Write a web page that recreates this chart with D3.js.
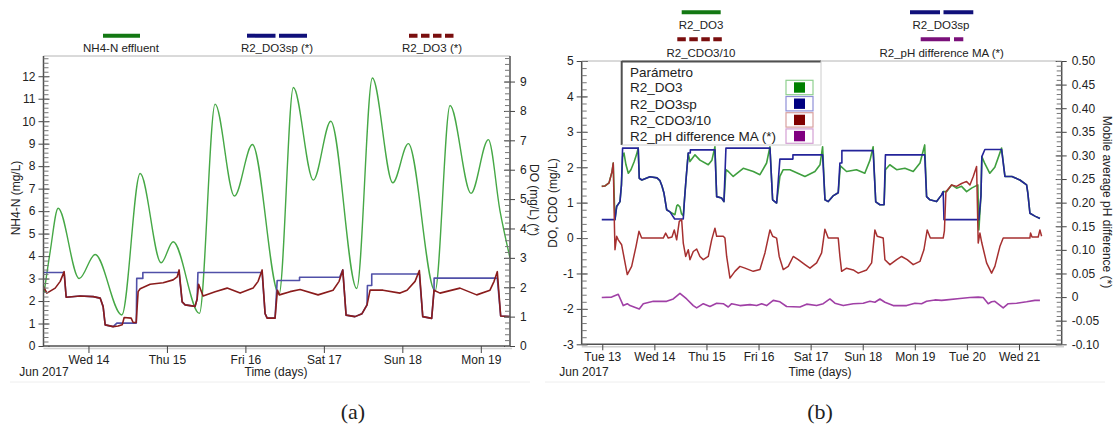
<!DOCTYPE html>
<html>
<head>
<meta charset="utf-8">
<script src="https://d3js.org/d3.v7.min.js"></script>
<style>
  body { margin: 0; background: #fff; }
  svg { display: block; font-family: "Liberation Sans", Arial, sans-serif; }
</style>
</head>
<body>
<svg width="1115" height="436"></svg>
<script>
// times are days since Jun 13 2017 00:00

// ---- panel (a) ----
var aNames = ["NH4-N effluent", "R2_DO3sp (*)", "R2_DO3 (*)"];
var aNH4 = [[0.436,2.4],[0.512,4.2],[0.614,6.13],[0.882,3.0],[1.085,4.07],[1.425,1.38],[1.659,7.67],[1.926,3.7],
  [2.079,4.64],[2.414,1.45],[2.614,10.76],[2.86,6.67],[3.089,8.96],[3.429,2.3],[3.611,11.5],[3.866,7.38],
  [4.088,10.0],[4.419,2.56],[4.618,11.92],[4.878,7.26],[5.076,9.0],[5.417,2.45],[5.608,10.7],[5.875,6.79],
  [6.096,9.18],[6.245,6.0],[6.373,3.9]];
var aDO3 = [[0.427,2.02],[0.47,1.8],[0.576,1.97],[0.64,2.2],[0.69,2.53],[0.716,1.66],[0.894,1.7],[1.06,1.68],
  [1.149,1.63],[1.187,1.34],[1.213,0.72],[1.315,0.66],[1.378,0.68],[1.43,0.72],[1.455,0.97],[1.544,0.95],
  [1.569,0.8],[1.608,0.8],[1.633,1.85],[1.659,1.95],[1.786,2.1],[1.952,2.15],[2.079,2.25],[2.13,2.35],
  [2.155,2.59],[2.194,1.5],[2.232,1.4],[2.359,1.35],[2.385,1.6],[2.404,2.1],[2.461,1.7],[2.614,1.85],
  [2.767,1.97],[2.933,1.8],[3.098,1.97],[3.162,2.2],[3.213,2.59],[3.251,1.1],[3.277,0.95],[3.378,0.95],
  [3.408,1.9],[3.433,1.74],[3.569,1.85],[3.697,1.92],[3.926,1.74],[4.117,1.9],[4.194,2.2],[4.241,2.59],
  [4.283,1.05],[4.397,1.0],[4.486,1.1],[4.55,1.4],[4.589,1.9],[4.754,1.9],[4.971,1.8],[5.06,1.9],
  [5.162,2.2],[5.217,2.57],[5.26,1.0],[5.374,0.94],[5.404,1.9],[5.48,1.8],[5.735,1.97],[5.948,1.74],
  [6.117,1.9],[6.169,2.2],[6.21,2.53],[6.253,1.02],[6.371,1.0]];
// setpoint held constant: [from, to, value]
var aSpSteps = [[0.427,0.69,2.5],[1.362,1.61,0.78],[1.615,1.693,2.3],[1.693,2.155,2.5],[2.395,3.213,2.5],
  [3.405,3.69,2.23],[3.69,4.2,2.34],[4.555,4.61,2.06],[4.61,5.217,2.45],[5.405,6.21,2.31]];

// ---- panel (b) ----
var bNames = ["R2_DO3", "R2_CDO3/10", "R2_DO3sp", "R2_pH difference MA (*)"];
var boxNames = ["R2_DO3", "R2_DO3sp", "R2_CDO3/10", "R2_pH difference MA (*)"];
var bDO3 = [[-0.01,1.46],[0.05,1.47],[0.13,1.56],[0.186,1.87],[0.21,2.12],[0.234,0.94],[0.244,0.52],[0.276,0.89],
  [0.34,1.03],[0.368,1.5],[0.39,2.3],[0.417,2.4],[0.455,2.07],[0.5,1.83],[0.55,1.93],[0.61,2.15],[0.656,2.35],
  [0.69,2.54],[0.71,1.69],[0.76,1.64],[0.915,1.73],[1.05,1.7],[1.107,1.62],[1.146,1.47],[1.184,1.27],[1.236,0.8],
  [1.3,0.74],[1.395,0.66],[1.43,0.91],[1.45,0.94],[1.49,0.88],[1.52,0.69],[1.555,0.63],[1.578,1.08],[1.607,1.64],
  [1.65,2.4],[1.683,2.16],[1.78,2.35],[1.875,2.2],[2.035,2.07],[2.105,2.2],[2.163,2.58],[2.196,1.17],[2.29,1.13],
  [2.336,1.03],[2.374,1.93],[2.42,1.88],[2.514,1.74],[2.706,1.97],[2.9,1.88],[3.027,1.79],[3.155,2.12],[3.219,2.58],
  [3.27,1.08],[3.347,0.99],[3.41,1.74],[3.474,1.93],[3.603,1.93],[3.891,1.74],[4.083,1.88],[4.18,2.07],[4.23,2.58],
  [4.275,1.08],[4.338,1.03],[4.43,1.19],[4.53,1.28],[4.57,2.04],[4.69,1.88],[4.88,1.93],[5.04,1.83],[5.14,2.2],
  [5.2,2.58],[5.25,1.02],[5.33,0.94],[5.41,0.94],[5.436,1.93],[5.52,2.07],[5.65,1.93],[5.81,1.97],[5.97,1.88],
  [6.1,2.12],[6.19,2.63],[6.226,1.17],[6.29,1.08],[6.418,1.03],[6.514,1.22],[6.545,1.31],[6.61,1.31],[6.706,1.5],
  [6.802,1.41],[6.898,1.46],[6.994,1.31],[7.09,1.41],[7.154,1.46],[7.21,1.5],[7.23,0.23],[7.27,1.2],[7.287,2.3],
  [7.345,2.1],[7.44,1.83],[7.536,2.0],[7.666,2.54],[7.73,1.74],[7.864,1.74],[8.017,1.64],[8.146,1.5],[8.17,1.27],
  [8.21,0.7],[8.306,0.62],[8.402,0.55]];
var bSpSteps = [[-0.01,0.244,0.52],[0.39,0.69,2.54],[1.39,1.555,0.54],[1.65,1.69,2.4],[1.69,2.163,2.49],
  [2.374,3.219,2.54],[3.41,3.66,2.23],[3.66,4.23,2.35],[4.562,4.6,2.12],[4.6,5.2,2.47],[5.436,6.19,2.35],
  [6.56,7.23,0.52],[7.345,7.666,2.5]];
var bCDO = [[-0.01,1.46],[0.05,1.47],[0.13,1.56],[0.186,1.87],[0.211,2.12],[0.234,0.3],[0.244,-0.33],[0.276,0.05],
  [0.307,-0.05],[0.372,-0.19],[0.48,-1.03],[0.564,-0.8],[0.647,-0.24],[0.704,0.19],[0.756,0],[1.171,0],[1.217,0.14],
  [1.267,0],[1.338,0.03],[1.382,0.23],[1.428,-0.05],[1.478,0.47],[1.524,0.52],[1.555,-0.14],[1.601,-0.52],
  [1.651,-0.33],[1.683,-0.61],[1.747,-0.38],[1.812,-0.31],[1.875,-0.52],[1.939,-0.61],[2.035,-0.52],[2.1,-0.05],
  [2.163,0.28],[2.196,0.05],[2.322,0.05],[2.355,0],[2.388,-0.52],[2.451,-1.13],[2.547,-0.94],[2.643,-0.8],
  [2.739,-0.85],[2.898,-0.94],[3.027,-0.89],[3.123,-0.42],[3.219,0.23],[3.271,0.05],[3.347,0],[3.397,-0.52],
  [3.474,-0.89],[3.57,-0.8],[3.666,-0.52],[3.762,-0.61],[3.891,-0.75],[3.987,-0.85],[4.115,-0.7],[4.211,-0.42],
  [4.274,0.25],[4.338,0],[4.53,0],[4.562,-0.52],[4.595,-0.94],[4.69,-0.85],[4.818,-0.9],[4.914,-0.99],[5.075,-0.9],
  [5.171,-0.7],[5.234,0.23],[5.278,0.05],[5.393,0],[5.426,-0.61],[5.522,-0.75],[5.651,-0.61],[5.747,-0.52],
  [5.854,-0.61],[5.969,-0.75],[6.098,-0.66],[6.175,-0.33],[6.238,0.23],[6.298,0],[6.545,0],[6.568,0.2],[6.597,1.31],
  [6.706,1.5],[6.802,1.46],[6.898,1.54],[6.994,1.6],[7.058,1.5],[7.122,1.74],[7.186,2.02],[7.217,-0.14],[7.25,0.14],
  [7.287,-0.14],[7.378,-0.7],[7.474,-0.99],[7.537,-0.8],[7.633,-0.24],[7.697,0],[8.209,0],[8.222,0.14],[8.25,0.03],
  [8.369,0.03],[8.402,0.23],[8.434,0.05]];
var bPH = [[-0.01,-0.001],[0.18,0.0],[0.307,0.006],[0.403,-0.018],[0.48,-0.014],[0.532,-0.018],[0.71,-0.025],
  [0.787,-0.014],[0.979,-0.009],[1.236,-0.009],[1.363,-0.004],[1.491,0.008],[1.62,-0.004],[1.747,-0.018],
  [1.812,-0.023],[1.939,-0.014],[2.067,-0.02],[2.196,-0.013],[2.322,-0.014],[2.418,-0.021],[2.484,-0.014],
  [2.643,-0.018],[2.835,-0.016],[2.964,-0.018],[3.06,-0.014],[3.155,-0.018],[3.282,-0.007],[3.411,-0.01],
  [3.539,-0.02],[3.795,-0.021],[3.923,-0.015],[4.115,-0.018],[4.242,-0.014],[4.37,-0.004],[4.466,-0.013],
  [4.626,-0.018],[4.818,-0.014],[5.01,-0.013],[5.138,-0.009],[5.234,-0.011],[5.33,-0.004],[5.426,-0.011],
  [5.585,-0.018],[5.843,-0.018],[6.002,-0.013],[6.13,-0.014],[6.226,-0.009],[6.386,-0.006],[6.514,-0.007],
  [6.61,-0.006],[6.866,-0.003],[7.058,-0.001],[7.217,0.0],[7.313,-0.001],[7.409,-0.014],[7.474,-0.01],
  [7.537,-0.009],[7.697,-0.023],[7.793,-0.014],[7.954,-0.013],[8.146,-0.01],[8.305,-0.007],[8.402,-0.007]];

var day0 = new Date(2017, 5, 13).getTime();
function toDate(t) { return new Date(day0 + t * 864e5); }

var svg = d3.select("svg");
var fmtDay = d3.timeFormat("%a %d");
var defs = svg.append("defs");

// setpoint line = measured value except where the setpoint is held
function stepSeries(base, steps) {
  var out = base.filter(function (d) {
    return !steps.some(function (s) { return d[0] >= s[0] && d[0] <= s[1]; });
  });
  steps.forEach(function (s) { out.push([s[0], s[2]], [s[1], s[2]]); });
  return out.sort(function (a, b) { return a[0] - b[0]; });
}

function clipRect(id, x0, x1, y0, y1) {
  defs.append("clipPath").attr("id", id).append("rect")
    .attr("x", x0).attr("y", y0).attr("width", x1 - x0).attr("height", y1 - y0);
}

function plotLine(data, x, y, color, width, clip, curve) {
  svg.append("path").datum(data)
    .attr("clip-path", "url(#" + clip + ")")
    .attr("fill", "none").attr("stroke", color).attr("stroke-width", width)
    .attr("stroke-linejoin", "round")
    .attr("d", d3.line().curve(curve || d3.curveLinear)
      .x(function (d) { return x(toDate(d[0])); })
      .y(function (d) { return y(d[1]); }));
}

function yAxis(x0, scale, majors, minors, side, fmt) {
  var left = side === "left";
  var mk = left ? d3.axisLeft : d3.axisRight;
  var g = svg.append("g").attr("transform", "translate(" + x0 + ",0)")
    .call(mk(scale).tickValues(majors).tickSize(5).tickPadding(left ? 3 : 5).tickFormat(fmt));
  g.attr("font-family", null).attr("font-size", 12);
  g.select(".domain").remove();
  g.selectAll(".tick line").attr("x1", left ? 6 : -6).attr("stroke", "#444");
  g.selectAll(".tick text").attr("fill", "#222");
  var m = svg.append("g").attr("transform", "translate(" + x0 + ",0)")
    .call(mk(scale).tickValues(minors).tickSize(-5).tickFormat(""));
  m.select(".domain").remove();
  m.selectAll(".tick line").attr("stroke", "#777");
}

function xAxis(y0, scale, size) {
  var g = svg.append("g").attr("transform", "translate(0," + y0 + ")")
    .call(d3.axisBottom(scale).ticks(d3.timeDay.every(1)).tickFormat(fmtDay).tickSize(size).tickPadding(2));
  g.attr("font-family", null).attr("font-size", 12);
  g.select(".domain").remove();
  g.selectAll(".tick line").attr("stroke", "#444");
  g.selectAll(".tick text").attr("fill", "#222");
}

function hline(x0, x1, y, color, w) {
  svg.append("line").attr("x1", x0).attr("x2", x1).attr("y1", y).attr("y2", y)
    .attr("stroke", color).attr("stroke-width", w);
}
function vline(x, y0, y1, color, w) {
  svg.append("line").attr("x1", x).attr("x2", x).attr("y1", y0).attr("y2", y1)
    .attr("stroke", color).attr("stroke-width", w);
}
function text(x, y, s, size, anchor, rot, family) {
  var t = svg.append("text").attr("x", x).attr("y", y).attr("font-size", size)
    .attr("text-anchor", anchor || "middle").attr("fill", "#222").text(s);
  if (family) t.attr("font-family", family);
  if (rot) t.attr("transform", "rotate(" + rot + "," + x + "," + y + ")")
    .attr("dominant-baseline", "central");
  return t;
}
function legendLine(x0, x1, y, color, dash) {
  svg.append("line").attr("x1", x0).attr("x2", x1).attr("y1", y).attr("y2", y)
    .attr("stroke", color).attr("stroke-width", 4).attr("stroke-dasharray", dash);
}

// ================= panel (a) =================
var xA = d3.scaleTime().domain([toDate(0.427), toDate(6.372)]).range([43.5, 510]);
var yAL = d3.scaleLinear().domain([0, 12.9]).range([346, 56]);
var yAR = d3.scaleLinear().domain([0, 9.87]).range([346, 56]);
clipRect("clipA", 43.5, 510, 56, 346);

plotLine(aNH4, xA, yAL, "#46a846", 1.4, "clipA", d3.curveMonotoneX);
plotLine(stepSeries(aDO3, aSpSteps), xA, yAR, "#5050a8", 1.6, "clipA");
plotLine(aDO3, xA, yAR, "#8a1c1c", 1.6, "clipA");

hline(43.5, 510, 56, "#b4b4b4", 1);
hline(43.5, 512, 348.5, "#d0d0d0", 1.5);
hline(43.5, 510, 346, "#505050", 1.5);
vline(43.5, 56, 346, "#505050", 1.5);
vline(510, 56, 346, "#505050", 1.5);

yAxis(43.5, yAL, d3.range(0, 13), d3.range(0, 65).map(function (i) { return i / 5; }), "left", d3.format("d"));
yAxis(510, yAR, d3.range(0, 10), d3.range(0, 50).map(function (i) { return i / 5; }), "right", d3.format("d"));
xAxis(346, xA, 7);

text(16, 198, "NH4-N (mg/L)", 12, "middle", -90);
text(534, 200, "DO (mg/L) (*)", 12, "middle", 90);
text(44, 376, "Jun 2017", 12, "middle");
text(276, 376, "Time (days)", 12, "middle");

legendLine(103, 140, 35.7, "#137813", null);
legendLine(247, 307, 35.7, "#10107a", "28.5,3.5");
legendLine(409, 456, 35.7, "#7a0e0e", "8.5,3.5");
text(121, 51.5, aNames[0], 11.5);
text(277, 51.5, aNames[1], 11.5);
text(432, 51.5, aNames[2], 11.5);

// ================= panel (b) =================
var xB = d3.scaleTime().domain([toDate(-0.395), toDate(8.82)]).range([581.7, 1061.7]);
var yBL = d3.scaleLinear().domain([-3, 5]).range([344.3, 61]);
var yBR = d3.scaleLinear().domain([-0.1, 0.5]).range([344.3, 61]);
clipRect("clipB", 581.7, 1061.7, 61, 344.3);

plotLine(bDO3, xB, yBL, "#3f9f3f", 1.6, "clipB");
plotLine(stepSeries(bDO3, bSpSteps), xB, yBL, "#24249a", 1.6, "clipB");
plotLine(bCDO, xB, yBL, "#a63030", 1.5, "clipB");
plotLine(bPH, xB, yBR, "#a040a6", 1.6, "clipB");

hline(581.7, 1061.7, 61, "#b4b4b4", 1);
hline(581.7, 1064, 346.8, "#d0d0d0", 1.5);
hline(581.7, 1061.7, 344.3, "#505050", 1.5);
vline(581.7, 61, 344.3, "#505050", 1.5);
vline(1061.7, 61, 344.3, "#505050", 1.5);

yAxis(581.7, yBL, d3.range(-3, 6), d3.range(-15, 26).map(function (i) { return i / 5; }), "left",
  function (v) { return String(v); });
yAxis(1061.7, yBR, d3.range(-10, 51, 5).map(function (i) { return i / 100; }),
  d3.range(-10, 51).map(function (i) { return i / 100; }), "right",
  function (v) { return Math.abs(v) < 1e-9 ? "0" : v.toFixed(2); });
xAxis(344.3, xB, 6);

text(553, 203, "DO, CDO (mg/L)", 12, "middle", -90);
text(1107, 202, "Mobile average pH difference (*)", 12, "middle", 90);
text(584, 376, "Jun 2017", 12, "middle");
text(820, 376, "Time (days)", 12, "middle");

legendLine(681.7, 720.7, 12.3, "#137813", null);
legendLine(677.3, 725, 39.3, "#7a0e0e", "8.5,3.5");
legendLine(910, 973.3, 12.3, "#10107a", "30,3.5");
legendLine(920.7, 963.3, 39.3, "#7a107a", "29.3,4,9.3,100");
text(701, 29, bNames[0], 11.5);
text(701, 57, bNames[1], 11.5);
text(941, 29, bNames[2], 11.5);
text(941.7, 57, bNames[3], 11.5);

// legend box inside the plot
var boxFill = ["#008000", "#000080", "#800000", "#800080"];
var boxEdge = ["#8fd08f", "#9090d8", "#d8a0a0", "#d4a0d4"];
svg.append("rect").attr("x", 621.7).attr("y", 61).attr("width", 199.3).attr("height", 84).attr("fill", "#fff");
hline(621.7, 821, 61.5, "#505050", 2);
vline(621.7, 61, 145, "#505050", 2);
vline(821, 61, 145, "#cccccc", 1);
hline(621.7, 821, 145, "#cccccc", 1);
text(630, 76.5, "Parámetro", 13.5, "start");
boxNames.forEach(function (name, i) {
  var cy = 87.5 + i * 16.2;
  text(630, cy + 4.8, name, 13.5, "start");
  svg.append("rect").attr("x", 786).attr("y", cy - 7.2).attr("width", 27).attr("height", 14.4)
    .attr("fill", "#fff").attr("stroke", boxEdge[i]).attr("stroke-width", 1.2);
  svg.append("rect").attr("x", 794).attr("y", cy - 5.2).attr("width", 11).attr("height", 10.4)
    .attr("fill", boxFill[i]);
});

// faint separators and captions
hline(10, 530, 382, "#eeeeee", 1);
hline(545, 1105, 382, "#eeeeee", 1);
text(353, 419, "(a)", 22, "middle", 0, "'Liberation Serif', 'Times New Roman', serif");
text(820, 419, "(b)", 22, "middle", 0, "'Liberation Serif', 'Times New Roman', serif");
</script>
</body>
</html>
